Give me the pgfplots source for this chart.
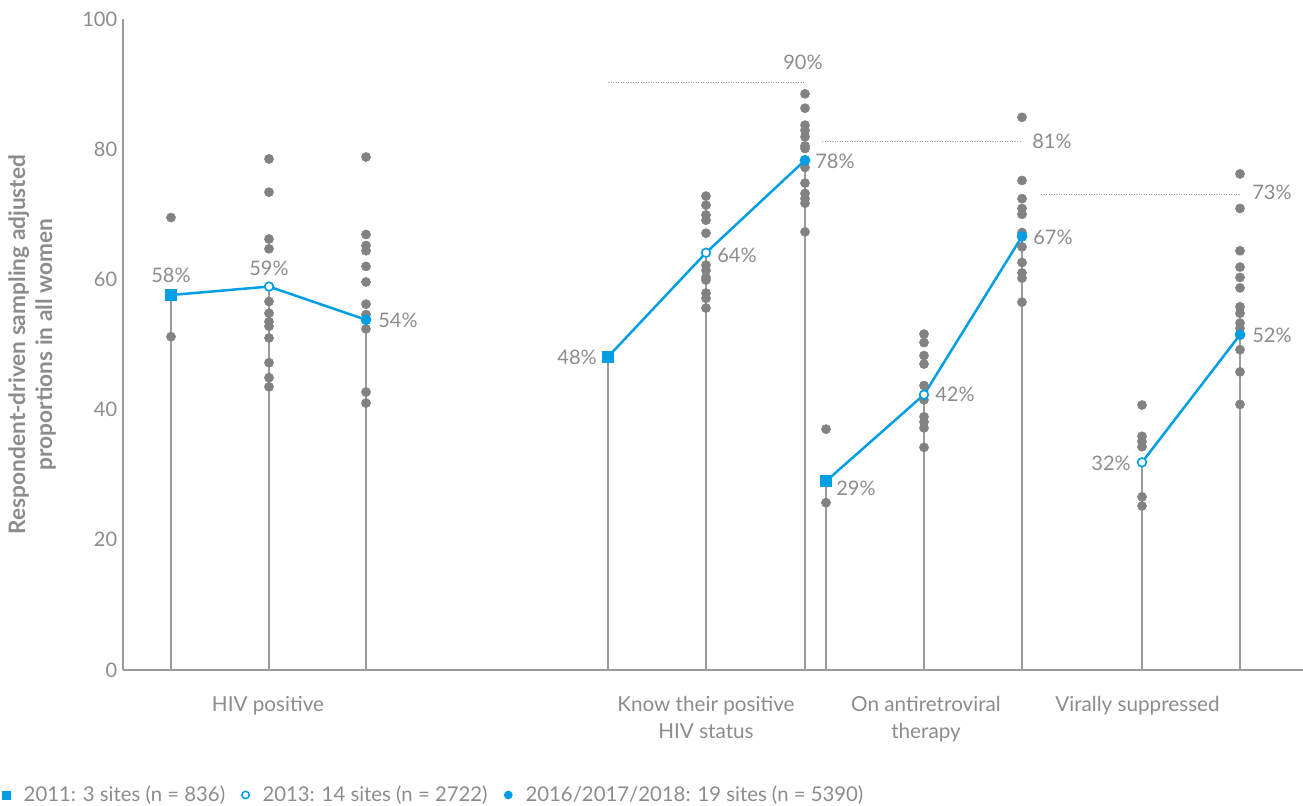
\documentclass[border=0pt]{standalone}
\usepackage{fontspec}
\setmainfont{Lato}
\usepackage{pgfplots}
\pgfplotsset{compat=1.18}
\definecolor{cblue}{RGB}{0,158,227}
\definecolor{cdot}{RGB}{130,130,130}
\definecolor{ctext}{RGB}{140,140,140}
\definecolor{cline}{RGB}{155,155,155}
\pgfplotsset{smallleg/.style={legend image code/.code={\draw[##1] plot coordinates {(0.1cm,0cm)};}}}
\begin{document}
\begin{tikzpicture}
\path[use as bounding box] (-73.8pt,-81pt) rectangle (708pt,402pt);
\begin{axis}[
  at={(0,0)}, anchor=south west,
  scale only axis, width=708pt, height=390.6pt,
  xmin=123, xmax=1303, ymin=0, ymax=100,
  axis x line=bottom, axis y line=left,
  axis line style={cline, -, line width=0.7pt},
  ytick={0,20,40,60,80,100},
  xtick={268,706,926,1137.5},
  xticklabels={HIV positive, Know their positive\\HIV status, On antiretroviral\\therapy, Virally suppressed},
  xticklabel style={align=center, yshift=-12pt, font=\fontsize{12.4}{16.2}\selectfont},
  major tick length=0pt,
  tick label style={font=\fontsize{12}{16.2}\selectfont, text=ctext},
  /pgf/number format/assume math mode=true,
  ylabel={Respondent-driven sampling adjusted\\proportions in all women},
  ylabel style={font=\bfseries\fontsize{13.6}{16.2}\selectfont, text=ctext, align=center, at={(axis description cs:-0.077,0.5)}, anchor=center},
  clip=false,
  legend style={at={(-0.1025,-0.192)}, anchor=west, draw=none, fill=none, inner sep=0pt,
    font=\fontsize{12.2}{14}\selectfont, text=ctext, legend columns=3,
    /tikz/every even column/.append style={column sep=8pt}},
  legend cell align=left,
]
% drop lines to the mean
\addplot[ycomb, cline, line width=0.8pt, forget plot] coordinates {
  (171,57.6) (269,58.9) (366,53.8)
  (608,48.1) (706,64.1) (805,78.3)
  (826,29.0) (924,42.3) (1022,66.6)
  (1142,31.9) (1240,51.5)};
% site values
\addplot[only marks, mark=*, mark size=2.7pt, cdot, forget plot] coordinates {
  (171,69.5) (171,51.2)
  (269,78.5) (269,73.4) (269,66.2) (269,64.7) (269,56.6) (269,54.8) (269,53.5) (269,52.8) (269,51.0) (269,47.2) (269,44.9) (269,43.5)
  (366,78.8) (366,66.9) (366,65.2) (366,64.4) (366,62.0) (366,59.6) (366,56.2) (366,54.6) (366,52.4) (366,42.7) (366,41.0)
  (706,72.8) (706,71.4) (706,69.9) (706,69.1) (706,67.1) (706,62.2) (706,61.4) (706,60.3) (706,59.9) (706,57.9) (706,57.1) (706,55.6)
  (805,88.5) (805,86.3) (805,83.7) (805,82.9) (805,81.9) (805,80.5) (805,80.1) (805,77.2) (805,74.8) (805,73.2) (805,72.4) (805,71.7) (805,67.3)
  (826,37.0) (826,25.7)
  (924,51.6) (924,50.3) (924,48.3) (924,47.0) (924,43.7) (924,41.5) (924,38.9) (924,38.1) (924,37.2) (924,34.2)
  (1022,84.9) (1022,75.2) (1022,72.4) (1022,70.9) (1022,70.0) (1022,67.2) (1022,65.0) (1022,62.6) (1022,61.0) (1022,60.2) (1022,56.5)
  (1142,40.7) (1142,35.9) (1142,35.1) (1142,34.3) (1142,26.6) (1142,25.2)
  (1240,76.2) (1240,70.9) (1240,64.4) (1240,61.9) (1240,60.3) (1240,58.7) (1240,55.8) (1240,54.8) (1240,53.3) (1240,52.5) (1240,49.2) (1240,45.8) (1240,40.8)};
% targets
\addplot[cline, line width=0.6pt, dash pattern=on 0.6pt off 0.9pt, forget plot] coordinates {(608,90.3) (805,90.3)};
\addplot[cline, line width=0.6pt, dash pattern=on 0.6pt off 0.9pt, forget plot] coordinates {(822,81.2) (1022,81.2)};
\addplot[cline, line width=0.6pt, dash pattern=on 0.6pt off 0.9pt, forget plot] coordinates {(1041,73.0) (1240,73.0)};
% trend lines
\addplot[cblue, line width=1.5pt, forget plot] coordinates {(171,57.6) (269,58.9) (366,53.8)};
\addplot[cblue, line width=1.5pt, forget plot] coordinates {(608,48.1) (706,64.1) (805,78.3)};
\addplot[cblue, line width=1.5pt, forget plot] coordinates {(826,29.0) (924,42.3) (1022,66.6)};
\addplot[cblue, line width=1.5pt, forget plot] coordinates {(1142,31.9) (1240,51.5)};
% markers
\addplot[only marks, mark=square*, mark size=3.3pt, cblue, forget plot] coordinates {(171,57.6) (608,48.1) (826,29.0)};
\addplot[only marks, mark=*, mark size=2.6pt, mark options={draw=cblue, fill=white, line width=1pt}, forget plot] coordinates {(269,58.9) (706,64.1) (924,42.3) (1142,31.9)};
\addplot[only marks, mark=*, mark size=3pt, cblue, forget plot] coordinates {(366,53.8) (805,78.3) (1022,66.6) (1240,51.5)};
% legend
\addlegendimage{only marks, mark=square*, mark size=2.4pt, cblue, smallleg}
\addlegendentry{\hspace{6pt}2011: 3 sites (n = 836)}
\addlegendimage{only marks, mark=*, mark size=2.2pt, mark options={draw=cblue, fill=white, line width=0.9pt}, smallleg}
\addlegendentry{\hspace{6pt}2013: 14 sites (n = 2722)}
\addlegendimage{only marks, mark=*, mark size=2.4pt, cblue, smallleg}
\addlegendentry{\hspace{6pt}2016/2017/2018: 19 sites (n = 5390)}
% value labels
\begin{scope}[every node/.style={font=\fontsize{12}{14}\selectfont, text=ctext, inner sep=0pt}]
\node[anchor=center] at (axis cs:171,60.68) {58\%};
\node[anchor=center] at (axis cs:269,61.75) {59\%};
\node[anchor=west] at (axis cs:378,53.76) {54\%};
\node[anchor=east] at (axis cs:597,48.08) {48\%};
\node[anchor=west] at (axis cs:717,63.75) {64\%};
\node[anchor=west] at (axis cs:815,78.19) {78\%};
\node[anchor=center] at (axis cs:803,93.39) {90\%};
\node[anchor=west] at (axis cs:836,27.96) {29\%};
\node[anchor=west] at (axis cs:935,42.40) {42\%};
\node[anchor=west] at (axis cs:1033,66.51) {67\%};
\node[anchor=west] at (axis cs:1032,81.26) {81\%};
\node[anchor=east] at (axis cs:1131,31.80) {32\%};
\node[anchor=west] at (axis cs:1252,51.46) {52\%};
\node[anchor=west] at (axis cs:1252,73.43) {73\%};
\end{scope}
\end{axis}
\end{tikzpicture}
\end{document}
